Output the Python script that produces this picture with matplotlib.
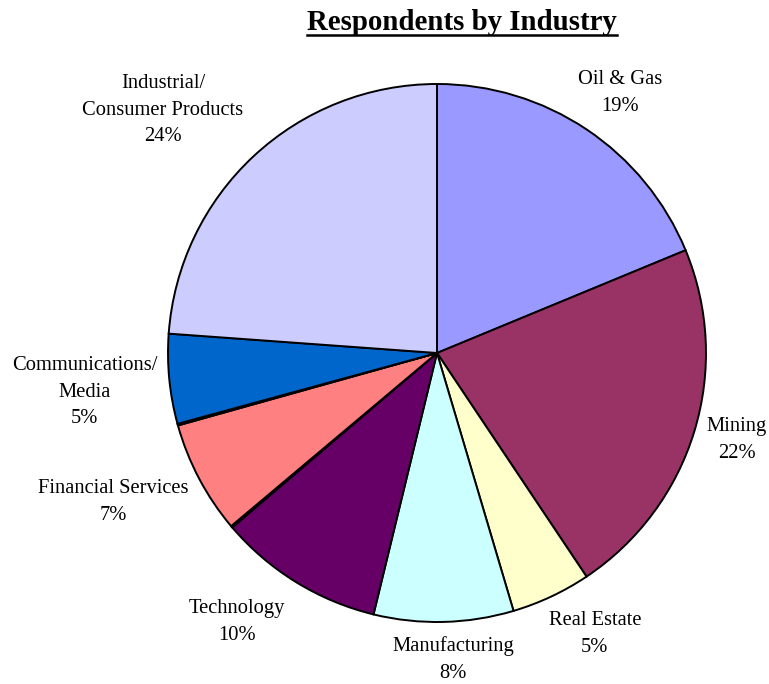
import numpy as np
import matplotlib
matplotlib.use("Agg")
import matplotlib.pyplot as plt
from matplotlib.lines import Line2D

plt.rcParams['font.family'] = ['Liberation Serif', 'DejaVu Serif']

# respondents share by industry, clockwise from 12 o'clock
industries = ["Oil & Gas", "Mining", "Real Estate", "Manufacturing", "Technology",
              None, "Financial Services", None, "Communications/\nMedia",
              "Industrial/\nConsumer Products"]
shares = [18.8, 21.9, 4.8, 8.4, 10.0, 0.1, 6.8, 0.1, 5.4, 23.9]
colors = ["#9999FF", "#993366", "#FFFFCC", "#CCFFFF", "#660066",
          "#D8D8D8", "#FF8080", "#D8D8D8", "#0066CC", "#CCCCFF"]

# where each label block sits, in pie-radius units
label_xy = [(0.680, 0.967), (1.115, -0.323), (0.587, -1.045), (0.059, -1.140),
            (-0.743, -1.000), None, (-1.204, -0.554), None, (-1.309, -0.145),
            (-1.019, 0.903)]

W, H = 769, 684
fig = plt.figure(figsize=(W / 100, H / 100), dpi=100)
cx, cy, r = 437, 353, 269
ax = fig.add_axes([(cx - r) / W, (H - cy - r) / H, 2 * r / W, 2 * r / H])

ax.pie(shares, colors=colors, startangle=90, counterclock=False,
       radius=1.0, wedgeprops=dict(edgecolor="black", linewidth=1.4))
ax.set_xlim(-1, 1)
ax.set_ylim(-1, 1)
ax.set_aspect("equal")
ax.axis("off")

total = sum(shares)
for name, val, pos in zip(industries, shares, label_xy):
    if name is None:
        continue
    ax.text(pos[0], pos[1], f"{name}\n{val / total * 100:.0f}%",
            ha="center", va="center", fontsize=14.8, linespacing=1.55,
            clip_on=False)

# bold underlined title
title = fig.text(462 / W, 1 - 22 / H, "Respondents by Industry", ha="center",
                 va="center", fontsize=20.8, fontweight="bold")
fig.canvas.draw()
bb = title.get_window_extent(fig.canvas.get_renderer())
uy = (bb.y0 + 1) / H
fig.add_artist(Line2D([bb.x0 / W, bb.x1 / W], [uy, uy], color="black",
                      linewidth=1.8, transform=fig.transFigure))

fig.savefig("out.png", dpi=100, facecolor="white")
